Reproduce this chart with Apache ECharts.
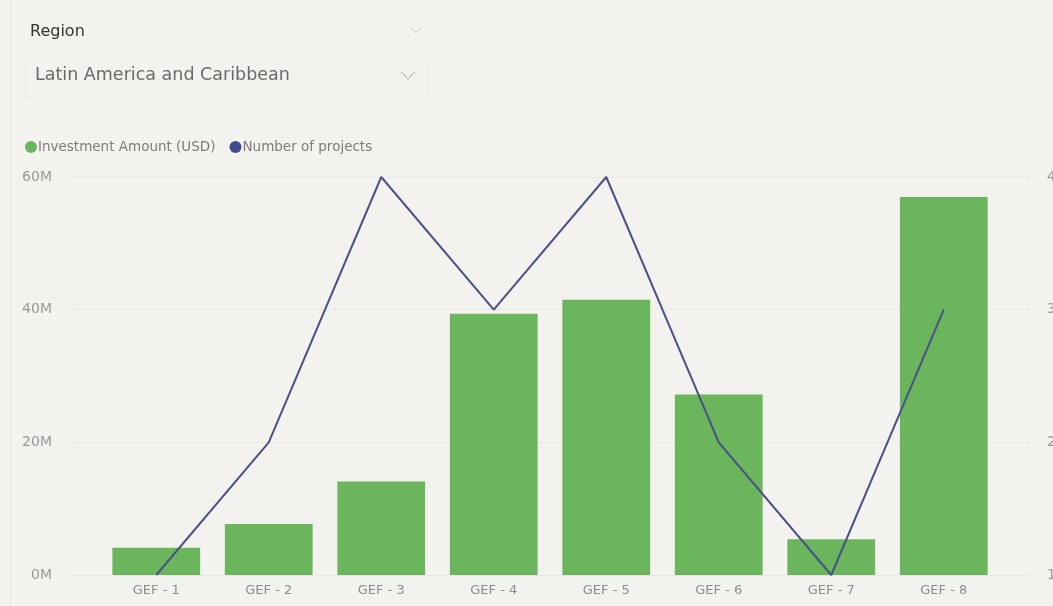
<!DOCTYPE html>
<html>
<head>
<meta charset="utf-8">
<script src="https://cdn.jsdelivr.net/npm/echarts@6/dist/echarts.min.js"></script>
<style>
html,body{margin:0;padding:0;background:#f4f2ee;}
#c{width:1053px;height:606px;}
</style>
</head>
<body>
<div id="c"></div>
<script>
const categories = ['GEF - 1','GEF - 2','GEF - 3','GEF - 4','GEF - 5','GEF - 6','GEF - 7','GEF - 8'];
const investment = [4.1e6, 7.7e6, 14.1e6, 39.4e6, 41.5e6, 27.2e6, 5.4e6, 57.0e6];
const projects = [1, 2, 4, 3, 4, 2, 1, 3];
const leftTicks = { min: 0, max: 60e6, interval: 20e6 };
const rightTicks = { min: 1, max: 4, interval: 1 };

const font = '"DejaVu Sans", "Open Sans", sans-serif';
const chart = echarts.init(document.getElementById('c'));
chart.setOption({
  backgroundColor: '#f4f2ee',
  animation: false,
  textStyle: { fontFamily: font },
  graphic: [
    { type: 'rect', shape: { x: 10, y: 0, width: 1, height: 606 }, style: { fill: '#e6e4e0' } },
    { type: 'text', left: 30, top: 24, style: { text: 'Region', fontSize: 16, fill: '#333', fontFamily: font } },
    { type: 'polyline', shape: { points: [[411, 28], [416, 33], [421, 28]] }, style: { stroke: '#c8c8c8', lineWidth: 1, fill: null } },
    { type: 'rect', shape: { x: 25, y: 58, width: 403, height: 40 }, style: { fill: '#f4f2ee', stroke: '#ebe9e5', lineWidth: 1 } },
    { type: 'text', left: 35, top: 66, style: { text: 'Latin America and Caribbean', fontSize: 17.5, fill: '#6a6a6a', fontFamily: font } },
    { type: 'polyline', shape: { points: [[401, 72], [408, 79], [415, 72]] }, style: { stroke: '#aaa', lineWidth: 1, fill: null } }
  ],
  legend: {
    left: 20, top: 135,
    icon: 'circle', itemWidth: 12, itemHeight: 12, itemGap: 14,
    textStyle: { fontSize: 13.5, color: '#7c7c7c', padding: [0, 0, 0, -4] },
    data: ['Investment Amount (USD)', 'Number of projects']
  },
  grid: [
    { left: 73, right: 23, top: 177, bottom: 31, outerBoundsMode: 'none' },
    { left: 100, width: 900, top: 177, bottom: 31, outerBoundsMode: 'none' }
  ],
  xAxis: [
    { type: 'value', gridIndex: 0, show: false, min: 0, max: 1 },
    {
      type: 'category', gridIndex: 1, data: categories,
      axisLine: { show: false }, axisTick: { show: false },
      axisLabel: { color: '#8c8c8c', fontSize: 13, margin: 9 }
    }
  ],
  yAxis: [
    {
      type: 'value', gridIndex: 0, position: 'left',
      min: leftTicks.min, max: leftTicks.max, interval: leftTicks.interval,
      axisLine: { show: false }, axisTick: { show: false },
      axisLabel: { color: '#999', fontSize: 14, margin: 21, formatter: v => (v / 1e6) + 'M' },
      splitLine: { lineStyle: { color: '#e8e6e2', width: 1 } }
    },
    {
      type: 'value', gridIndex: 0, position: 'right',
      min: rightTicks.min, max: rightTicks.max, interval: rightTicks.interval,
      axisLine: { show: false }, axisTick: { show: false },
      axisLabel: { color: '#999', fontSize: 14, margin: 17 },
      splitLine: { show: false }
    },
    { type: 'value', gridIndex: 1, show: false, min: leftTicks.min, max: leftTicks.max, splitLine: { show: false } },
    { type: 'value', gridIndex: 1, show: false, min: rightTicks.min, max: rightTicks.max, splitLine: { show: false } }
  ],
  series: [
    {
      name: 'Investment Amount (USD)', type: 'bar', xAxisIndex: 1, yAxisIndex: 2,
      data: investment, barCategoryGap: '22%',
      itemStyle: { color: '#6bb55c' }
    },
    {
      name: 'Number of projects', type: 'line', xAxisIndex: 1, yAxisIndex: 3,
      data: projects, symbol: 'none',
      lineStyle: { color: '#4b5186', width: 2 },
      itemStyle: { color: '#3f4a8e' }
    }
  ]
});
</script>
</body>
</html>
